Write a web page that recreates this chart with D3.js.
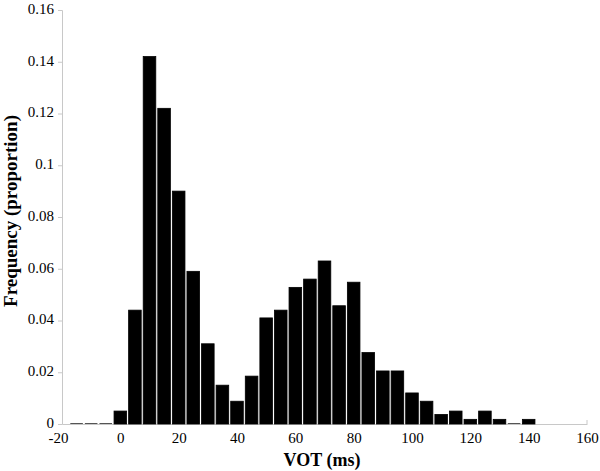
<!DOCTYPE html>
<html lang="en">
<head>
  <meta charset="UTF-8">
  <script src="https://d3js.org/d3.v7.min.js"></script>
  <style>
    body { margin: 0; background: #ffffff; font-family: "Liberation Serif", "Times New Roman", serif; }
    .tick text { font-family: "Liberation Serif", serif; font-size: 15px; fill: #000; }
    .axis-title { font-family: "Liberation Serif", serif; font-weight: bold; }
  </style>
</head>
<body>
  <div id="chart"></div>
  <script>
    // VOT bin centres (ms) and proportion of tokens per bin
    const bins = [-15, -10, -5, 0, 5, 10, 15, 20, 25, 30, 35, 40, 45, 50, 55, 60, 65, 70,
                  75, 80, 85, 90, 95, 100, 105, 110, 115, 120, 125, 130, 135, 140];
    const freq = [0, 0, 0, 0.005, 0.044, 0.142, 0.122, 0.090, 0.059, 0.031, 0.015, 0.0088, 0.0185,
                  0.041, 0.044, 0.0528, 0.056, 0.063, 0.0457, 0.0548, 0.0276, 0.0205, 0.0205,
                  0.012, 0.0088, 0.0037, 0.005, 0.0018, 0.005, 0.0018, 0, 0.0018];
    const xTicks = [-20, 0, 20, 40, 60, 80, 100, 120, 140, 160];
    const yTicks = [0, 0.02, 0.04, 0.06, 0.08, 0.1, 0.12, 0.14, 0.16];

    const width = 600, height = 471;
    const margin = { left: 62, right: 13, top: 10, bottom: 47 };

    const svg = d3.select("#chart").append("svg")
      .attr("width", width)
      .attr("height", height);

    const x = d3.scaleLinear().domain([-20, 160]).range([margin.left, width - margin.right]);
    const y = d3.scaleLinear().domain([0, 0.16]).range([height - margin.bottom, margin.top]);

    const barW = (x(5) - x(0)) - 2;

    // axes
    const yAxis = svg.append("g")
      .attr("transform", `translate(${margin.left},0)`)
      .call(d3.axisLeft(y).tickValues(yTicks).tickSize(4).tickPadding(4)
        .tickFormat(d => String(+d.toFixed(2))));
    yAxis.select(".domain").attr("stroke", "#c8c8c8");
    yAxis.selectAll(".tick line").attr("stroke", "#c8c8c8");
    yAxis.selectAll(".tick text").attr("dy", "0.22em");

    const xAxis = svg.append("g")
      .attr("transform", `translate(0,${y(0)})`)
      .call(d3.axisBottom(x).tickValues(xTicks).tickSize(0).tickPadding(8)
        .tickFormat(d => String(d)));
    xAxis.select(".domain").attr("stroke", "#c8c8c8");
    xAxis.selectAll(".tick text").filter(d => d === -20).attr("dx", "-4");

    svg.append("line")
      .attr("x1", x(160)).attr("x2", x(160))
      .attr("y1", y(0)).attr("y2", y(0) - 4)
      .attr("stroke", "#c8c8c8");

    // bars (empty bins still show as a thin line, like the original)
    svg.selectAll(".bar")
      .data(bins)
      .enter().append("rect")
      .attr("class", "bar")
      .attr("x", d => x(d) - barW / 2)
      .attr("width", barW)
      .attr("y", (d, i) => Math.min(y(freq[i]), y(0) - 1))
      .attr("height", (d, i) => Math.max(y(0) - y(freq[i]), 1))
      .attr("fill", (d, i) => freq[i] === 0 ? "#555" : "#000")
      .attr("stroke", (d, i) => freq[i] === 0 ? "none" : "#000")
      .attr("stroke-width", 0.8);

    // titles
    svg.append("text")
      .attr("class", "axis-title")
      .attr("x", 322).attr("y", 466)
      .attr("text-anchor", "middle")
      .style("font-size", "18px")
      .text("VOT (ms)");

    svg.append("text")
      .attr("class", "axis-title")
      .attr("transform", "translate(17,211) rotate(-90)")
      .attr("text-anchor", "middle")
      .style("font-size", "19px")
      .text("Frequency (proportion)");
  </script>
</body>
</html>
